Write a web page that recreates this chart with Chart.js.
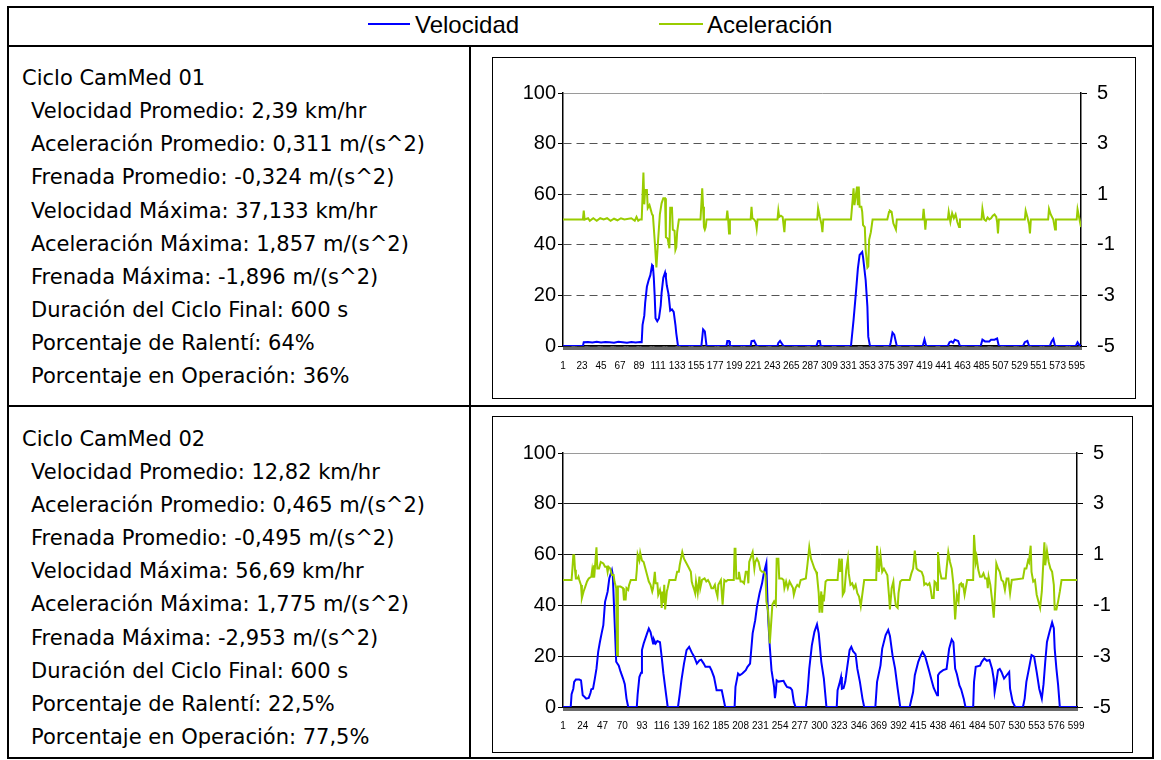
<!DOCTYPE html>
<html lang="es">
<head>
<meta charset="utf-8">
<title>Ciclos CamMed</title>
<script src="https://cdn.jsdelivr.net/npm/chart.js@4"></script>
<style>
  html, body { margin: 0; padding: 0; background: #fff; }
  body { width: 1161px; height: 760px; position: relative; overflow: hidden; font-family: "DejaVu Sans", Verdana, sans-serif; color: #000; }
  .rule { position: absolute; background: #000; }
  .legend-item { position: absolute; top: 12.7px; font-family: "Liberation Sans", Arial, sans-serif; font-size: 24px; line-height: 24px; white-space: nowrap; }
  .swatch { position: absolute; height: 2px; }
  .stats { position: absolute; font-size: 21px; line-height: 33.15px; white-space: nowrap; }
  .stats .head { padding-left: 0; }
  .stats .item { padding-left: 9px; }
  .box { position: absolute; border: 1px solid #000; box-sizing: border-box; }
  canvas { position: absolute; }
</style>
</head>
<body>

<!-- table frame -->
<div class="rule" style="left:7px; top:6px; width:1147px; height:2px;"></div>
<div class="rule" style="left:7px; top:757px; width:1147px; height:2px;"></div>
<div class="rule" style="left:7px; top:6px; width:2px; height:753px;"></div>
<div class="rule" style="left:1152px; top:6px; width:2px; height:753px;"></div>
<div class="rule" style="left:7px; top:45px; width:1147px; height:2px;"></div>
<div class="rule" style="left:7px; top:405px; width:1147px; height:2px;"></div>
<div class="rule" style="left:469px; top:45px; width:2px; height:714px;"></div>

<!-- shared legend -->
<div class="swatch" style="left:368px; top:23px; width:42px; background:#0000ff;"></div>
<div class="legend-item" style="left:415px;">Velocidad</div>
<div class="swatch" style="left:659px; top:23px; width:44px; background:#99cc00;"></div>
<div class="legend-item" style="left:707px;">Aceleración</div>

<div class="stats" id="stats1" style="left:22px; top:62px;"></div>
<div class="stats" id="stats2" style="left:22px; top:422.7px;"></div>

<div class="box" style="left:492px; top:57px; width:644px; height:342px;"></div>
<div class="box" style="left:492px; top:416px; width:641px; height:337px;"></div>

<canvas id="ciclo1" width="641" height="339" style="left:493px; top:58px; width:641px; height:339px;"></canvas>
<canvas id="ciclo2" width="638" height="334" style="left:493px; top:417px; width:638px; height:334px;"></canvas>

<script>
// Summary figures of each driving cycle
const resumen1 = {
  nombre: 'Ciclo CamMed 01',
  velProm: '2,39', acelProm: '0,311', frenProm: '-0,324',
  velMax: 37.133, acelMax: 1.857, frenMax: -1.896,
  duracion: 600, ralenti: '64', operacion: '36'
};
const resumen2 = {
  nombre: 'Ciclo CamMed 02',
  velProm: '12,82', acelProm: '0,465', frenProm: '-0,495',
  velMax: 56.69, acelMax: 1.775, frenMax: -2.953,
  duracion: 600, ralenti: '22,5', operacion: '77,5'
};

// Category labels shown under each time axis (seconds)
const ticksCiclo1 = [1, 23, 45, 67, 89, 111, 133, 155, 177, 199, 221, 243, 265, 287, 309, 331, 353, 375, 397, 419, 441, 463, 485, 507, 529, 551, 573, 595];
const ticksCiclo2 = [1, 24, 47, 70, 93, 116, 139, 162, 185, 208, 231, 254, 277, 300, 323, 346, 369, 392, 415, 438, 461, 484, 507, 530, 553, 576, 599];

// Left axis (km/h) and right axis (m/s^2) ticks
const ejeVelocidad = [0, 20, 40, 60, 80, 100];
const ejeAceleracion = [-5, -3, -1, 1, 3, 5];

// Cycle 01: [second, km/h]
const velocidad1 = [
  [1,0],[24,0],[25,1.5],[30,1.6],[35,1.4],[40,1.7],[45,1.4],[50,1.6],[55,1.5],[60,1.3],[65,1.7],[70,1.5],[75,1.3],[80,1.6],[85,1.4],[90,1.6],[92,1.5],
  [93,8.4],[95,12],[96,17],[98,23.4],[100,26],[102,28],[104,32],[105,31.5],[106,27],[107,20],[108,11],[110,9.8],[112,11],[114,16],[115,21],[117,27],[119,29],
  [120,27],[121,24],[123,20.5],[125,14],[127,14.5],[129,13.5],[131,8.4],[132,5],[134,0],
  [161,0],[163,6.6],[165,5.8],[167,0],[190,0],[191,2],[193,2],[194,0],[218,0],[219,1.9],[222,2.1],[225,0],[249,0],[250,1.2],[252,2],[253,2],[256,0],
  [294,0],[296,2],[298,2],[299,0],
  [334,0],[337,10.3],[339,18.2],[342,30.7],[344,36],[347,37.133],[348,35],[351,26],[353,15.5],[354,3.7],[356,0],
  [379,0],[380,1.5],[382,5.3],[384,4.5],[387,0],[417,0],[419,2.6],[421,0],[446,0],[448,1.5],[450,1.8],[452,1.3],[454,2.5],[458,2],[460,0],
  [484,0],[486,2.5],[489,1.8],[494,1.8],[496,2.5],[500,2.5],[503,3],[505,0],[533,0],[535,1.5],[538,2],[540,0],[564,0],[566,1.8],[568,2.8],[570,0],
  [594,0],[596,1.5],[598,0.5],[600,0]
];

// Cycle 01: [second, m/s^2]
const aceleracion1 = [
  [1,0],[24,0],[25,0.35],[26,0],[30,0.05],[32,-0.05],[36,0.05],[40,-0.05],[44,0.05],[48,0],[52,0.05],[56,-0.05],[60,0.03],[64,-0.03],[68,0.05],[72,0],
  [80,0.05],[84,-0.05],[86,0.1],[88,-0.05],[90,0],[92,0],
  [94,1.857],[95,0.6],[96,1.17],[98,1.17],[99,0.45],[101,0.57],[102,0.45],[104,0.2],[105,0.15],[107,-0.81],[109,-1.896],[111,-0.8],[113,0.2],[115,0.64],
  [117,0.84],[119,0.84],[120,-0.7],[122,-0.75],[124,-1.14],[125,0.46],[127,0.46],[128,-0.4],[130,-0.45],[131,-1.2],[132,-1.1],[133,-0.5],[135,0],
  [160,0],[162,1.23],[163,0.5],[164,-0.3],[165,-0.4],[166,-0.3],[167,0],[190,0],[191,0.35],[192,0],[193,-0.55],[194,0],
  [218,0],[219,0.5],[220,0.05],[222,0],[224,-0.1],[225,-0.35],[226,0],[249,0],[250,0.35],[251,0.1],[253,0.15],[255,0.1],[257,-0.5],[258,0],
  [295,0],[296,0.45],[298,0.1],[300,-0.2],[301,-0.5],[302,0],
  [334,0],[337,1.23],[338,0.57],[341,1.3],[342,0.57],[343,1.3],[344,0.5],[346,0.5],[347,0.3],[348,-0.22],[350,-0.3],[351,-1.2],[353,-1.896],[354,-1.85],
  [355,-0.8],[357,-0.5],[359,0],
  [376,0],[378,0.3],[379,0.35],[381,0.3],[383,-0.15],[386,-0.4],[387,0],[417,0],[418,0.42],[419,0.05],[420,-0.4],[421,0],
  [446,0],[447,0.3],[448,0.1],[449,-0.1],[451,0.25],[453,0.05],[455,0.2],[457,-0.1],[459,-0.3],[460,0],
  [485,0],[486,0.42],[488,0],[490,-0.05],[492,0.08],[494,0],[496,0.05],[498,0.15],[500,0.2],[502,0.1],[503,-0.1],[504,-0.55],[505,0],
  [535,0],[536,0.35],[538,0.1],[540,-0.2],[541,-0.55],[542,0],[562,0],[563,0.42],[565,0.2],[568,0],[570,-0.4],[571,0],
  [595,0],[596,0.4],[598,0.05],[600,-0.3]
];

// Cycle 02: [second, km/h]
const velocidad2 = [
  [1,0],[10,0],[11,5],[13,7.2],[14,9.9],[16,10.8],[20,10.8],[22,10.5],[24,4.6],[26,4],[28,3.3],[31,3.6],[33,5.5],[34,7],[36,7.2],[38,11],[40,15.1],
  [42,21.7],[44,25.6],[46,29],[48,32.2],[50,41.4],[53,45.4],[55,50.7],[58,53.9],[59,52],[61,35],[63,17.8],[66,16.3],[68,14],[71,11.2],[73,9],[75,3.3],[77,0],
  [87,0],[88,5],[90,11.8],[92,13.5],[93,22.4],[95,25],[99,29],[101,30.9],[103,29.5],[106,25],[107,26.5],[109,25],[111,26],[114,25.5],[116,19.7],[118,13.2],
  [121,5.3],[123,0],
  [135,0],[137,5],[139,10.5],[142,17.1],[145,22.4],[148,23.7],[151,21.5],[154,19.7],[157,17.1],[160,18.4],[162,18.6],[165,17.1],[167,15.8],[172,15.8],
  [174,14.5],[177,11.8],[180,6.6],[186,6.6],[190,0],
  [201,0],[202,7.9],[205,13.2],[207,12.5],[210,13.2],[214,14.5],[216,15.8],[219,17.1],[222,29],[225,34.2],[227,39.4],[230,44.7],[233,48.7],[235,52.6],
  [238,56.69],[239,45],[240,35.5],[242,23.7],[244,14.5],[247,7.9],[248,3.5],[249,6],[250,10.5],[252,10],[258,10.3],[260,9],[262,7.9],[266,7.5],[268,6.6],
  [270,2],[272,0],
  [284,0],[286,6],[288,15.1],[291,24.3],[294,29.6],[297,32.5],[299,29],[302,17.8],[305,11.2],[308,0],
  [320,0],[321,6.6],[323,9],[325,11.8],[326,7.2],[328,7.5],[330,10],[332,15.1],[335,22.4],[337,23.7],[339,22],[342,20.8],[344,15.1],[347,9.9],[350,3.3],[352,0],
  [365,0],[367,9.9],[371,16.4],[373,23],[377,28.3],[380,30.3],[382,28],[385,20.4],[388,15.1],[391,7.2],[394,0],
  [405,0],[409,5.9],[411,12.5],[415,17.8],[418,20.4],[420,21.7],[423,20],[427,15.1],[431,9.9],[433,7.5],[437,4.6],[438,12.5],[440,13.5],[444,14.5],[448,15],
  [451,23],[454,26.6],[456,25.5],[458,15.1],[460,13],[463,8.5],[465,7],[468,3.3],[470,0],
  [479,0],[480,9.9],[482,15.8],[487,16.3],[489,17.8],[492,19.1],[495,18.2],[498,18.5],[501,15.1],[503,11],[504,5.9],[506,9.8],[508,14.5],[510,15],[512,13.8],
  [515,11.2],[518,12.5],[521,13.8],[522,7.2],[525,2],[528,0],
  [537,0],[539,3.3],[541,9.9],[544,15.1],[547,20.4],[550,19.8],[553,13.8],[556,7.2],[559,3.3],[561,9],[563,17.8],[565,25.6],[568,29.6],[571,33.3],[573,31],
  [574,23],[576,15.1],[578,8.6],[580,0],[600,0]
];

// Cycle 02: [second, m/s^2]
const aceleracion2 = [
  [1,0],[11,0],[12,0.45],[13,0.97],[14,0.97],[15,0.4],[16,0.06],[18,0.06],[19,0.13],[20,0],[22,-0.2],[23,-0.71],[25,-0.45],[27,-0.26],[29,-0.06],[31,0.06],
  [34,0.13],[35,0.39],[36,0.13],[37,0.58],[38,0.39],[40,1.29],[41,0.45],[43,0.45],[45,0.71],[48,0.65],[50,0.52],[52,0.52],[53,0.32],[54,0.52],[56,0.45],
  [58,0.2],[60,0.2],[61,-0.06],[63,-0.32],[64,-2.953],[65,-0.26],[68,-0.26],[71,-0.32],[72,-0.77],[74,-0.77],[75,-0.32],[77,-0.39],[78,-0.2],[80,0],
  [86,0],[87,0.39],[88,1],[90,0.77],[91,1.07],[93,0.77],[95,0.71],[97,0.45],[99,0.2],[101,-0.06],[103,-0.19],[105,-0.45],[106,-0.32],[108,0.32],[109,-0.13],
  [111,-0.13],[112,-0.58],[114,-0.39],[115,-0.58],[116,-1.1],[117,-0.45],[118,-0.9],[119,-0.19],[120,-1.16],[122,-0.45],[123,-0.32],[125,0],
  [132,0],[134,0.32],[136,0.32],[137,0.58],[140,1.1],[142,0.84],[145,0.65],[147,0.52],[150,0.32],[151,-0.06],[152,-0.19],[154,-0.39],[155,-0.52],[156,-0.06],
  [158,-0.52],[159,-0.19],[160,0.13],[161,-0.32],[163,0],[166,0.06],[168,-0.06],[170,0],[172,-0.13],[174,-0.32],[176,-0.32],[178,-0.19],[179,-0.39],
  [181,-0.65],[182,-0.19],[185,0],[187,-0.97],[189,0],[191,-0.06],[193,0],
  [200,0],[201,1.23],[202,1.23],[203,0.06],[205,0.06],[206,0.32],[208,-0.06],[210,-0.06],[212,-0.13],[214,0.32],[216,0.32],[217,-0.13],[218,0.71],[220,0.9],
  [222,1.1],[224,0.45],[225,0.71],[227,0.84],[229,0.71],[231,0.39],[233,0.32],[235,0.32],[236,0.26],[237,0.19],[238,-0.84],[240,-1.23],[242,-2.5],[243,-2],
  [245,-0.97],[247,-0.84],[249,-0.97],[250,0.84],[252,0.84],[253,0.06],[256,0.06],[258,0],[259,-0.32],[261,-0.06],[263,-0.32],[265,-0.06],[267,-0.19],
  [269,-0.32],[270,-0.58],[272,-0.32],[274,-0.19],[276,-0.26],[278,0],[282,0.04],[284,0.06],[286,0.65],[288,1.29],[290,0.84],[292,0.65],[294,0.45],
  [296,0.32],[297,0.19],[299,-0.52],[300,-1.29],[302,-0.45],[303,-1.29],[304,-0.58],[305,-0.84],[307,-0.06],[309,0],
  [321,0],[323,0.84],[324,0.32],[326,0.84],[327,-0.58],[329,-0.45],[331,0.39],[333,0.84],[334,0.26],[336,-0.19],[338,-0.13],[340,-0.32],[342,-0.19],
  [344,-0.52],[346,-0.65],[348,-1.03],[350,-0.52],[352,0],
  [366,0],[367,1.35],[369,0.32],[371,0.97],[373,0.32],[375,0.45],[377,0.32],[379,0.19],[381,-0.65],[382,-1.16],[384,-0.32],[386,-0.06],[387,-0.52],
  [389,-1.03],[391,-1.1],[392,-0.52],[394,-0.06],[396,0],
  [405,0],[407,0.26],[409,0.45],[411,1.16],[413,0.45],[415,0.39],[419,0.32],[421,0.13],[422,-0.19],[424,-0.13],[426,-0.2],[428,-0.13],[429,-0.26],
  [431,-0.71],[433,-0.71],[434,-0.06],[436,-0.13],[437,-0.39],[438,1.1],[440,0.39],[442,0.06],[447,0.06],[448,0.45],[450,1.1],[452,0.71],[454,0.45],
  [456,-0.19],[458,-1.55],[460,-0.58],[462,-0.84],[463,-0.19],[465,-0.13],[466,-0.26],[467,-0.13],[469,-0.58],[470,-0.39],[472,0],
  [479,0],[480,1.775],[482,0.71],[483,0.9],[485,0.39],[487,0.13],[489,0.13],[491,0.26],[493,0.06],[495,0.06],[496,-0.32],[497,0.13],[499,-0.19],
  [501,-0.77],[503,-1.48],[505,-0.19],[506,0.65],[508,0.45],[510,0.32],[512,0],[514,-0.06],[516,-0.39],[518,0.06],[520,0.06],[522,-0.52],[524,0],
  [537,0.06],[539,0.45],[541,0.45],[543,0.77],[544,0.71],[546,1.35],[547,0.32],[549,-0.06],[551,0],[553,-0.58],[555,-0.84],[557,-1.1],[559,-0.45],
  [560,0.2],[562,1.48],[563,0.58],[565,1.16],[567,0.71],[569,0.45],[571,0.32],[573,-0.19],[574,-1.16],[576,-1.16],[578,-0.84],[580,-0.45],[582,0],[600,0]
];

function fmt(n, dec) {
  return n.toFixed(dec).replace('.', ',');
}

function writeStats(el, r, decVel) {
  const lines = [
    'Velocidad Promedio: ' + r.velProm + ' km/hr',
    'Aceleración Promedio: ' + r.acelProm + ' m/(s^2)',
    'Frenada Promedio: ' + r.frenProm + ' m/(s^2)',
    'Velocidad Máxima: ' + fmt(r.velMax, decVel) + ' km/hr',
    'Aceleración Máxima: ' + fmt(r.acelMax, 3) + ' m/(s^2)',
    'Frenada Máxima: ' + fmt(r.frenMax, 3) + ' m/(s^2)',
    'Duración del Ciclo Final: ' + r.duracion + ' s',
    'Porcentaje de Ralentí: ' + r.ralenti + '%',
    'Porcentaje en Operación: ' + r.operacion + '%'
  ];
  const head = document.createElement('div');
  head.className = 'head';
  head.textContent = r.nombre;
  el.appendChild(head);
  lines.forEach(t => {
    const d = document.createElement('div');
    d.className = 'item';
    d.textContent = t;
    el.appendChild(d);
  });
}
writeStats(document.getElementById('stats1'), resumen1, 3);
writeStats(document.getElementById('stats2'), resumen2, 2);

const toPoints = pairs => pairs.map(([x, y]) => ({ x, y }));

function drawCycle(id, vel, acc, tickLabels, frame) {
  const tickFont = { family: 'Liberation Sans', size: 20 };
  return new Chart(document.getElementById(id), {
    type: 'line',
    data: {
      datasets: [
        { label: 'Aceleración', data: toPoints(acc), yAxisID: 'y2', borderColor: '#99cc00', borderWidth: 2,
          pointRadius: 0, tension: 0, fill: false, order: 0 },
        { label: 'Velocidad', data: toPoints(vel), yAxisID: 'y', borderColor: '#0000ff', borderWidth: 2,
          pointRadius: 0, tension: 0, fill: false, order: 1 }
      ]
    },
    options: {
      responsive: false,
      animation: false,
      devicePixelRatio: 1,
      layout: { padding: { top: frame.top, left: 0, right: 0, bottom: 0 } },
      plugins: { legend: { display: false }, title: { display: false }, tooltip: { enabled: false } },
      scales: {
        x: {
          type: 'linear', min: 1, max: 600,
          afterFit: s => { s.height = frame.bottom; },
          ticks: {
            stepSize: 1, autoSkip: false, maxRotation: 0, minRotation: 0, padding: frame.xPad, color: '#000',
            font: { family: 'Liberation Sans', size: 10 },
            callback: v => tickLabels.includes(v) ? String(v) : ''
          },
          grid: { drawOnChartArea: false, drawTicks: true, tickLength: 4, tickColor: '#6a6a6a', tickWidth: 1, lineWidth: 1 },
          border: { color: '#000', width: 1.5 }
        },
        y: {
          position: 'left', min: ejeVelocidad[0], max: ejeVelocidad[ejeVelocidad.length - 1],
          afterFit: s => { s.width = frame.left; },
          afterBuildTicks: s => { s.ticks = ejeVelocidad.map(v => ({ value: v })); },
          ticks: { padding: 2, color: '#000', font: tickFont, callback: v => String(v) },
          grid: {
            color: c => (c.tick && c.tick.value === 100) ? '#9a9a9a' : frame.gridColor,
            lineWidth: 1, tickLength: 5, tickColor: '#000', tickWidth: 1
          },
          border: {
            color: '#000', width: 1.5,
            dash: c => (frame.dashed && c.tick && c.tick.value !== 100) ? [8, 5] : []
          }
        },
        y2: {
          position: 'right', min: ejeAceleracion[0], max: ejeAceleracion[ejeAceleracion.length - 1],
          afterFit: s => { s.width = frame.right; },
          afterBuildTicks: s => { s.ticks = ejeAceleracion.map(v => ({ value: v })); },
          ticks: { padding: 10, color: '#000', font: tickFont, callback: v => String(v) },
          grid: { drawOnChartArea: false, drawTicks: true, tickLength: 6, tickColor: '#000', tickWidth: 1 },
          border: { color: '#000', width: 1.5 }
        }
      }
    }
  });
}

drawCycle('ciclo1', velocidad1, aceleracion1, ticksCiclo1,
  { left: 70, right: 53, top: 35, bottom: 51, xPad: 10, dashed: true, gridColor: '#555' });
drawCycle('ciclo2', velocidad2, aceleracion2, ticksCiclo2,
  { left: 70, right: 54, top: 36, bottom: 44, xPad: 9, dashed: false, gridColor: '#1e1e1e' });
</script>
</body>
</html>
